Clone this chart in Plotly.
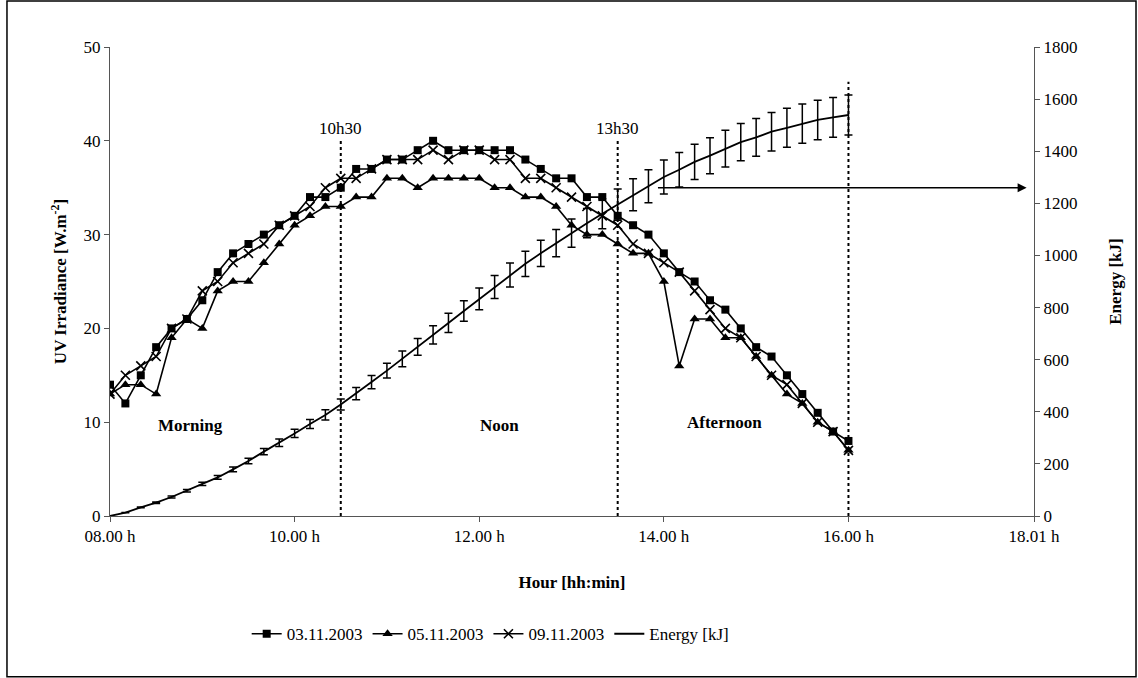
import plotly.graph_objects as go

times = ["08:00","08:10","08:20","08:30","08:40","08:50",
         "09:00","09:10","09:20","09:30","09:40","09:50",
         "10:00","10:10","10:20","10:30","10:40","10:50",
         "11:00","11:10","11:20","11:30","11:40","11:50",
         "12:00","12:10","12:20","12:30","12:40","12:50",
         "13:00","13:10","13:20","13:30","13:40","13:50",
         "14:00","14:10","14:20","14:30","14:40","14:50",
         "15:00","15:10","15:20","15:30","15:40","15:50",
         "16:00"]

uv_03 = [14,12,15,18,20,21, 23,26,28,29,30,31, 32,34,34,35,37,37,
         38,38,39,40,39,39, 39,39,39,38,37,36, 36,34,34,32,31,30,
         28,26,25,23,22,20, 18,17,15,13,11,9, 8]
uv_05 = [13,14,14,13,19,21, 20,24,25,25,27,29, 31,32,33,33,34,34,
         36,36,35,36,36,36, 36,35,35,34,34,33, 31,30,30,29,28,28,
         25,16,21,21,19,19, 17,15,13,12,10,9, 7]
uv_09 = [13,15,16,17,20,21, 24,25,27,28,29,31, 32,33,35,36,36,37,
         38,38,38,39,38,39, 39,38,38,36,36,35, 34,33,32,31,29,28,
         27,26,24,22,20,19, 17,15,14,12,10,9, 7]
energy = [0,13,33,51,73,97, 123,148,179,211,247,281, 317,353,388,428,470,514,
          558,603,649,695,741,787, 833,879,925,968,1008,1047,
          1086,1124,1160,1195,1233,1266, 1301,1329,1359,1383,1410,1435,
          1453,1475,1490,1506,1520,1530, 1539]
energy_err_pct = 5

x_tickvals = [8, 10, 12, 14, 16, 18.01]
x_ticktext = ["08.00 h", "10.00 h", "12.00 h", "14.00 h", "16.00 h", "18.01 h"]

hours = [int(t[:2]) + int(t[3:]) / 60 for t in times]

FONT = "Liberation Serif"
fig = go.Figure()

fig.add_trace(go.Scatter(x=hours, y=uv_03, name="03.11.2003", mode="lines+markers",
                         line=dict(color="black", width=1.6),
                         marker=dict(symbol="square", size=8, color="black")))
fig.add_trace(go.Scatter(x=hours, y=uv_05, name="05.11.2003", mode="lines+markers",
                         line=dict(color="black", width=1.6),
                         marker=dict(symbol="triangle-up", size=9, color="black")))
fig.add_trace(go.Scatter(x=hours, y=uv_09, name="09.11.2003", mode="lines+markers",
                         line=dict(color="black", width=1.6),
                         marker=dict(symbol="x-thin-open", size=9, color="black",
                                     line=dict(width=1.6, color="black"))))
fig.add_trace(go.Scatter(x=hours, y=energy, name="Energy [kJ]", mode="lines", yaxis="y2",
                         line=dict(color="black", width=1.8),
                         error_y=dict(type="percent", value=energy_err_pct, color="black",
                                      thickness=1.5, width=4)))

# vertical dotted lines
for xv, ytop in [(10.5, 40.0), (13.5, 40.0), (16.0, 46.3)]:
    fig.add_shape(type="line", xref="x", yref="y", x0=xv, x1=xv, y0=0, y1=ytop,
                  line=dict(color="black", width=2, dash="dot"))

ann_font = dict(family=FONT, size=17, color="black")
fig.add_annotation(x=10.5, y=41.3, text="10h30", showarrow=False, font=ann_font)
fig.add_annotation(x=13.5, y=41.3, text="13h30", showarrow=False, font=ann_font)
bold_font = dict(family=FONT, size=17, color="black")
fig.add_annotation(x=8.87, y=9.7, text="<b>Morning</b>", showarrow=False, font=bold_font)
fig.add_annotation(x=12.22, y=9.7, text="<b>Noon</b>", showarrow=False, font=bold_font)
fig.add_annotation(x=14.66, y=10.0, text="<b>Afternoon</b>", showarrow=False, font=bold_font)

# arrow
fig.add_annotation(x=17.93, y=35.0, ax=13.92, ay=35.0, xref="x", yref="y",
                   axref="x", ayref="y", text="", showarrow=True,
                   arrowhead=2, arrowsize=1.2, arrowwidth=1.5, arrowcolor="black")

# outer frame
fig.add_shape(type="rect", xref="paper", yref="paper",
              x0=-0.1115, x1=1.1104, y0=-0.343, y1=1.098,
              line=dict(color="black", width=1.5))

fig.update_layout(
    width=1138, height=678,
    margin=dict(l=110, r=104, t=47, b=162),
    paper_bgcolor="white", plot_bgcolor="white",
    font=dict(family=FONT, size=17, color="black"),
    showlegend=True,
    legend=dict(orientation="h", x=0.412, xanchor="center", y=-0.252, yanchor="middle",
                font=dict(family=FONT, size=17), itemwidth=30, tracegroupgap=0),
    xaxis=dict(range=[8, 18.01], tickvals=x_tickvals, ticktext=x_ticktext,
               showgrid=False, zeroline=False, showline=True, linecolor="#555", linewidth=1,
               ticks="outside", ticklen=5, tickcolor="#555",
               title=dict(text="<b>Hour [hh:min]</b>", font=dict(family=FONT, size=17), standoff=30)),
    yaxis=dict(range=[0, 50], dtick=10, showgrid=False, zeroline=False, showline=True,
               linecolor="#555", linewidth=1, ticks="outside", ticklen=5, tickcolor="#555",
               title=dict(text="<b>UV Irradiance [W.m<sup>-2</sup>]</b>",
                          font=dict(family=FONT, size=17), standoff=12)),
    yaxis2=dict(range=[0, 1800], dtick=200, overlaying="y", side="right", showgrid=False,
                zeroline=False, showline=True, linecolor="#555", linewidth=1,
                ticks="outside", ticklen=5, tickcolor="#555",
                title=dict(text="<b>Energy [kJ]</b>", font=dict(family=FONT, size=17), standoff=32)),
)

fig.write_html("out.html")
